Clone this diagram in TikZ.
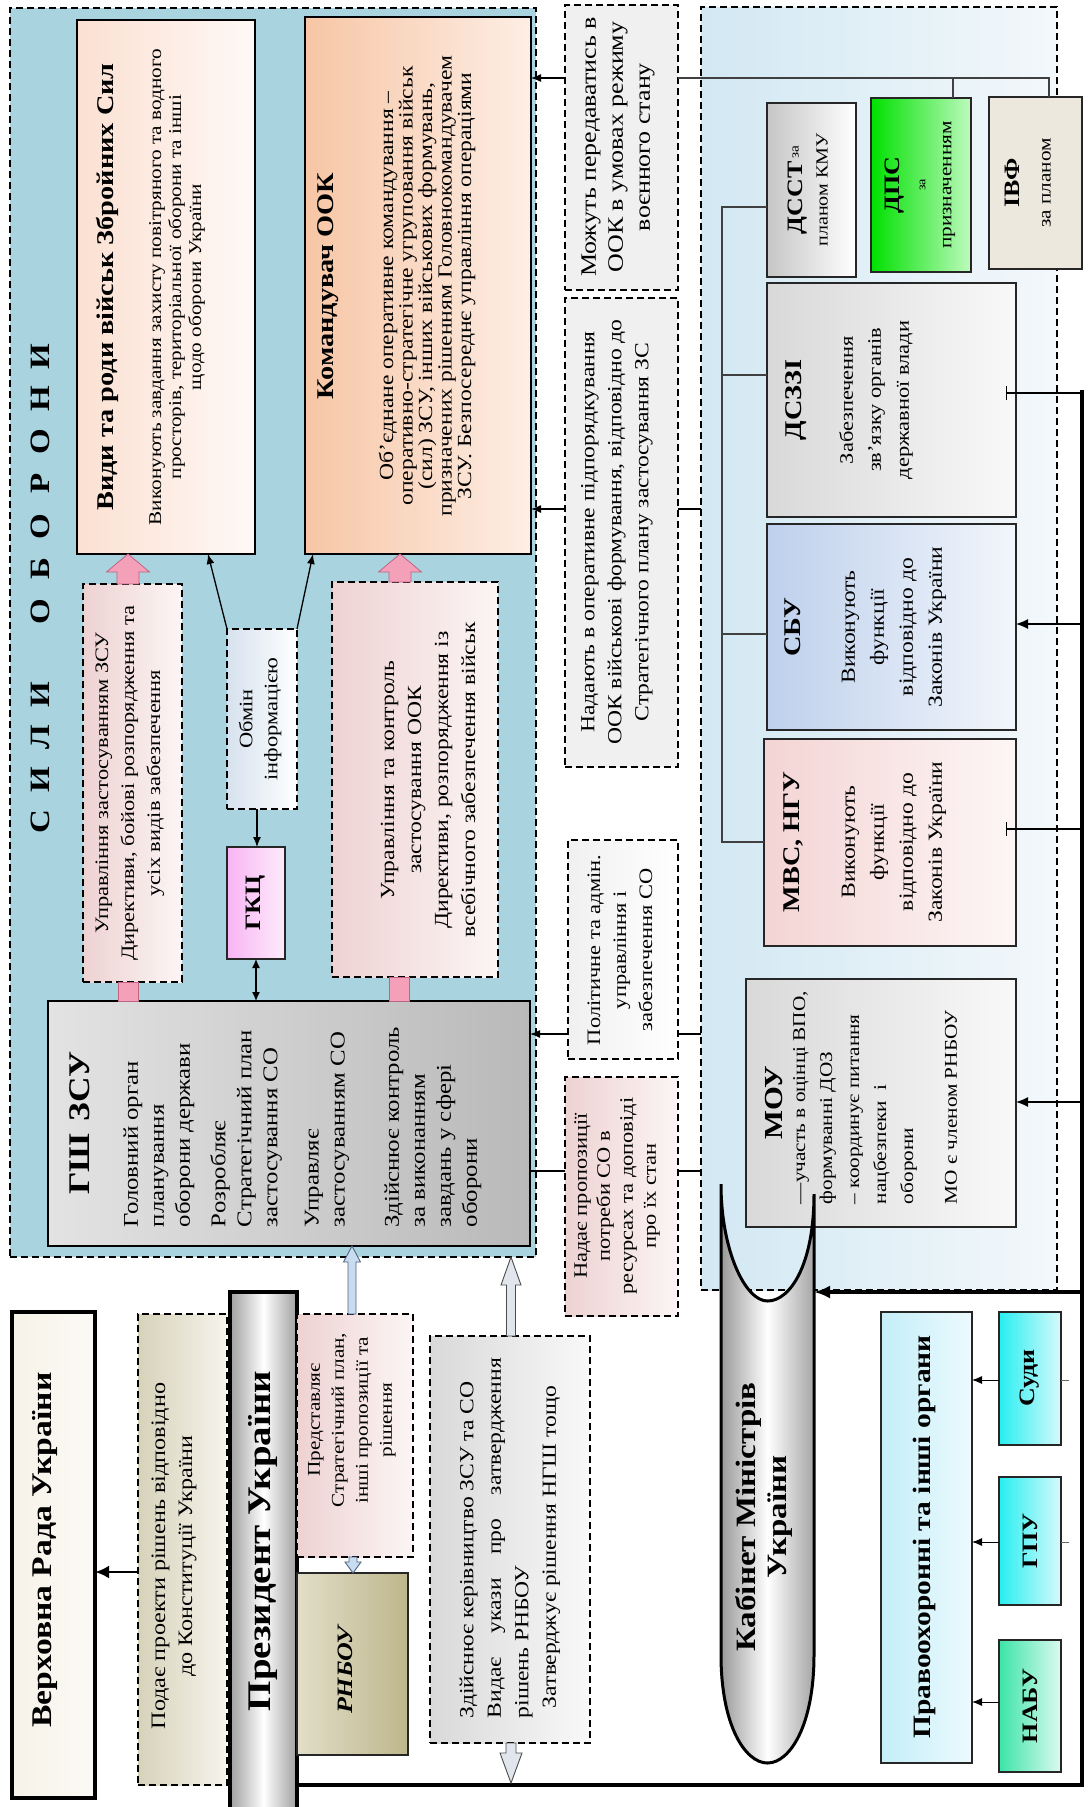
\documentclass[tikz,border=0pt]{standalone}
\usepackage{fontspec}
\setmainfont{Liberation Serif}[FakeStretch=1.18]
\usetikzlibrary{arrows.meta,calc}
\definecolor{silybg}{RGB}{168,211,223}
\definecolor{govA}{RGB}{210,232,243}
\definecolor{govB}{RGB}{243,248,251}
\definecolor{peachA}{RGB}{251,224,210}
\definecolor{peachB}{RGB}{255,249,246}
\definecolor{orangeA}{RGB}{247,198,165}
\definecolor{orangeB}{RGB}{253,238,229}
\definecolor{pinkA}{RGB}{238,210,210}
\definecolor{pinkB}{RGB}{252,245,245}
\definecolor{blueA}{RGB}{214,226,238}
\definecolor{magA}{RGB}{248,180,244}
\definecolor{magB}{RGB}{253,236,251}
\definecolor{grayL}{RGB}{240,240,240}
\definecolor{dpsA}{RGB}{0,225,0}
\definecolor{dpsB}{RGB}{190,250,190}
\definecolor{ivfC}{RGB}{236,232,222}
\definecolor{sbuA}{RGB}{190,208,236}
\definecolor{sbuB}{RGB}{242,246,252}
\definecolor{mvsA}{RGB}{244,212,212}
\definecolor{mvsB}{RGB}{253,246,246}
\definecolor{pravA}{RGB}{196,238,248}
\definecolor{pravB}{RGB}{236,250,254}
\definecolor{cyanA}{RGB}{40,238,240}
\definecolor{cyanB}{RGB}{215,250,252}
\definecolor{nabuA}{RGB}{60,228,168}
\definecolor{nabuB}{RGB}{220,250,240}
\definecolor{creamA}{RGB}{246,242,232}
\definecolor{creamB}{RGB}{252,250,246}
\definecolor{khakiA}{RGB}{214,210,186}
\definecolor{khakiB}{RGB}{246,244,236}
\definecolor{oliveA}{RGB}{226,222,200}
\definecolor{oliveB}{RGB}{190,182,140}
\definecolor{pinkAr}{RGB}{244,160,185}
\definecolor{pinkArD}{RGB}{190,100,130}
\definecolor{blueAr}{RGB}{200,220,240}
\definecolor{blueArD}{RGB}{80,100,130}
\definecolor{grayAr}{RGB}{225,230,236}
\newcommand\fs[2]{\fontsize{#1}{#2}\selectfont}
\newcommand\Lt[1]{\makebox[42.5pt]{#1}}
\newcommand\BOX[7]{\node[#2, minimum width={(#5-#3)*1pt}, minimum height={(#6-#4)*1pt}] (#1) at ({(#3+#5)/2},{(#4+#6)/2}) {#7};}
\newcommand\blockar[6]{\draw[#1] ($(#2)+(-#4,0)$) -- ($(#3)+(-#4,#6)$) -- ($(#3)+(-#5,#6)$) -- (#3) -- ($(#3)+(#5,#6)$) -- ($(#3)+(#4,#6)$) -- ($(#2)+(#4,0)$) -- cycle;}
\begin{document}
\begin{tikzpicture}[x=1pt,y=-1pt,
  box/.style={draw=black!85, line width=1.2pt, inner sep=0pt, outer sep=0pt},
  dbox/.style={box, draw=black, dash pattern=on 7pt off 4pt},
  tbox/.style={box, draw=black, line width=2.6pt},
  rt/.style={rotate=90, inner sep=0pt, outer sep=0pt, align=center, text=black},
  rtl/.style={rt, align=left},
  ln/.style={draw=black, line width=1.3pt},
  tln/.style={draw=black!75, line width=1.4pt},
  arr/.style={ln, -{Latex[length=10pt,width=8pt]}},
  pinkar/.style={draw=pinkArD, line width=0.8pt, fill=pinkAr},
  bluear/.style={draw=blueArD, line width=0.9pt, fill=blueAr},
  grayar/.style={draw=black!70, line width=0.9pt, fill=grayAr},
]
\fill[white] (0,0) rectangle (1087,1807);
\useasboundingbox (0,0) rectangle (1087,1807);

% regions
\BOX{sily}{dbox, fill=silybg}{10}{8}{536}{1257}{}
\BOX{gov}{dbox, left color=govA, right color=govB}{701}{7}{1057}{1290}{}
\node[rt, font=\fs{28}{30}\bfseries] (silyT) at (40,589) {\Lt{С}\Lt{И}\Lt{Л}\Lt{И}\hspace{40.5pt}\Lt{О}\Lt{Б}\Lt{О}\Lt{Р}\Lt{О}\Lt{Н}\Lt{И}};

% SILY OBORONY content
\BOX{vydy}{tbox, left color=peachA, right color=peachB}{77}{20}{255}{554}{}
\node[rt, font=\fs{24}{26}\bfseries] (vydyT) at (107,287) {Види та роди військ Збройних Сил};
\node[rt, font=\fs{18}{20}] (vydyB) at (177,287) {Виконують завдання захисту повітряного та водного\\просторів, територіальної оборони та інші\\щодо оборони України};

\BOX{kom}{tbox, left color=orangeA, right color=orangeB}{305}{17}{531}{554}{}
\node[rt, font=\fs{24}{26}\bfseries] (komT) at (328,286) {Командувач ООК};
\node[rt, font=\fs{20}{19.5}] (komB) at (427,286) {Об’єднане оперативне командування –\\оперативно-стратегічне угруповання військ\\(сил) ЗСУ, інших військових формувань,\\призначених рішенням Головнокомандувачем\\ЗСУ. Безпосереднє управління операціями};

\BOX{upr1}{dbox, left color=pinkA, right color=pinkB}{83}{584}{182}{982}{}
\node[rt, font=\fs{19}{26}] (upr1T) at (130,783) {Управління застосуванням ЗСУ\\Директиви, бойові розпорядження та\\усіх видів забезпечення};

\BOX{obmin}{dbox, left color=blueA, right color=white}{227}{629}{297}{809}{}
\node[rt, font=\fs{19}{25}] (obminT) at (260,719) {Обмін\\інформацією};

\BOX{gkc}{box, left color=magA, right color=magB}{227}{847}{285}{959}{}
\node[rt, font=\fs{22}{24}\bfseries] (gkcT) at (256,903) {ГКЦ};

\BOX{upr2}{dbox, left color=pinkA, right color=pinkB}{332}{582}{498}{977}{}
\node[rt, font=\fs{20}{27}] (upr2T) at (428,780) {Управління та контроль\\застосування ООК\\Директиви, розпорядження із\\всебічного забезпечення військ};

\BOX{gsh}{tbox, left color=gray!22, right color=gray!55}{48}{1001}{530}{1246}{}
\node[rt, font=\fs{30}{32}\bfseries] (gshT) at (80,1123) {ГШ\hspace{12pt}ЗСУ};
\node[rtl, font=\fs{21}{26}, anchor=west] (gsh1) at (159,1227) {Головний орган\\планування\\оборони держави};
\node[rtl, font=\fs{21}{26}, anchor=west] (gsh2) at (246,1227) {Розробляє\\Стратегічний план\\застосування СО};
\node[rtl, font=\fs{21}{26}, anchor=west] (gsh3) at (327,1227) {Управляє\\застосуванням СО};
\node[rtl, font=\fs{21}{26}, anchor=west] (gsh4) at (433,1227) {Здійснює контроль\\за виконанням\\завдань у сфері\\оборони};

% middle column
\BOX{mozh}{dbox, fill=grayL}{565}{5}{678}{290}{}
\node[rt, font=\fs{22}{27}] (mozhT) at (618,147) {Можуть передаватись в\\ООК в умовах режиму\\воєнного стану};
\BOX{nadayut}{dbox, fill=grayL}{565}{298}{678}{767}{}
\node[rt, font=\fs{20}{27}] (nadayutT) at (617,532) {Надають в оперативне підпорядкування\\ООК військові формування, відповідно до\\Стратегічного плану застосування ЗС};
\BOX{polit}{dbox, left color=grayL, right color=white}{568}{840}{678}{1059}{}
\node[rt, font=\fs{19}{26}] (politT) at (620,950) {Політичне та адмін.\\управління і\\забезпечення СО};
\BOX{nadae}{dbox, left color=pinkA, right color=pinkB}{565}{1077}{678}{1316}{}
\node[rt, font=\fs{19}{23}] (nadaeT) at (617,1196) {Надає пропозиції\\потреби СО в\\ресурсах та доповіді\\про їх стан};

% government column
\BOX{dsst}{box, left color=gray!45, right color=white}{767}{103}{856}{277}{}
\node[rt, font=\fs{17}{25}] (dsstT) at (808,190) {{\fs{22}{24}\bfseries ДССТ}\,\raisebox{4pt}{\fs{13}{14}за}\\планом КМУ};
\BOX{dps}{box, left color=dpsA, right color=dpsB}{871}{98}{971}{272}{}
\node[rt, font=\fs{18}{26}] (dpsT) at (920,185) {{\fs{22}{22}\bfseries ДПС}\\{\fs{12}{14}за}\\призначенням};
\BOX{ivf}{box, fill=ivfC}{989}{97}{1082}{269}{}
\node[rt, font=\fs{18}{31}] (ivfT) at (1028,183) {{\fs{22}{22}\bfseries ІВФ}\\за планом};
\BOX{dszzi}{box, left color=gray!30, right color=gray!5}{767}{283}{1016}{517}{}
\node[rt, font=\fs{24}{26}\bfseries] (dszziT) at (796,400) {ДСЗЗІ};
\node[rt, font=\fs{19}{28}] (dszziB) at (876,400) {Забезпечення\\зв’язку органів\\державної влади};
\BOX{sbu}{box, left color=sbuA, right color=sbuB}{767}{524}{1016}{730}{}
\node[rt, font=\fs{24}{26}\bfseries] (sbuT) at (793,627) {СБУ};
\node[rt, font=\fs{20}{29}] (sbuB) at (894,627) {Виконують\\функції\\відповідно до\\Законів України};
\BOX{mvs}{box, left color=mvsA, right color=mvsB}{764}{739}{1016}{946}{}
\node[rt, font=\fs{24}{26}\bfseries] (mvsT) at (793,842) {МВС, НГУ};
\node[rt, font=\fs{20}{29}] (mvsB) at (894,842) {Виконують\\функції\\відповідно до\\Законів України};
\BOX{mou}{box, left color=gray!30, right color=gray!5}{746}{979}{1016}{1227}{}
\node[rt, font=\fs{26}{28}\bfseries] (mouT) at (774,1103) {МОУ};
\node[rtl, font=\fs{18}{27}, anchor=west] (mouB) at (855,1204) {—участь в оцінці ВПО,\\формуванні ДОЗ\\– координує питання\\нацбезпеки\hspace{10pt}і\\оборони};
\node[rtl, font=\fs{18}{27}, anchor=west] (mouC) at (951,1204) {МО є членом РНБОУ};

% law enforcement
\BOX{pravo}{box, line width=1.8pt, left color=pravA, right color=pravB}{881}{1312}{972}{1763}{}
\node[rt, font=\fs{25}{27}\bfseries] (pravoT) at (924,1537) {Правоохоронні та інші органи};
\BOX{sudy}{box, left color=cyanA, right color=cyanB}{999}{1312}{1061}{1445}{}
\node[rt, font=\fs{22}{24}\bfseries] (sudyT) at (1030,1378) {Суди};
\BOX{gpu}{box, left color=cyanA, right color=cyanB}{999}{1477}{1061}{1605}{}
\node[rt, font=\fs{22}{24}\bfseries] (gpuT) at (1030,1541) {ГПУ};
\BOX{nabu}{box, left color=nabuA, right color=nabuB}{999}{1640}{1061}{1772}{}
\node[rt, font=\fs{22}{24}\bfseries] (nabuT) at (1030,1706) {НАБУ};

% left column
\BOX{verkh}{box, draw=black, line width=3.5pt, left color=creamA, right color=creamB}{12}{1312}{95}{1798}{}
\node[rt, font=\fs{28.5}{30}\bfseries] (verkhT) at (45,1550) {Верховна Рада України};
\BOX{podae}{dbox, left color=khakiA, right color=khakiB}{138}{1314}{227}{1785}{}
\node[rt, font=\fs{20.5}{27}] (podaeT) at (174,1556) {Подає проекти рішень відповідно\\до Конституції України};
\BOX{prez}{box, draw=black, line width=3.5pt, left color=gray!75, right color=gray!75, middle color=white}{230}{1292}{297}{1815}{}
\node[rt, font=\fs{33}{35}\bfseries] (prezT) at (263,1541) {Президент України};
\BOX{predst}{dbox, left color=pinkA, right color=pinkB}{297}{1314}{413}{1557}{}
\node[rt, font=\fs{18}{24}] (predstT) at (352,1420) {Представляє\\Стратегічний план,\\інші пропозиції та\\рішення};
\BOX{rnbou}{box, left color=oliveA, right color=oliveB}{297}{1573}{408}{1755}{}
\node[rt, font=\fs{22}{24}\bfseries\itshape] (rnbouT) at (345,1670) {РНБОУ};
\BOX{zdiysn}{dbox, left color=gray!30, right color=gray!5}{430}{1336}{590}{1743}{}
\node[rtl, font=\fs{20}{27.5}, anchor=west] (zdiysnT) at (510,1718) {Здійснює керівництво ЗСУ та СО\\\makebox[360pt][s]{Видає укази про затвердження}\\рішень РНБОУ\\\hspace*{10pt}Затверджує рішення НГШ тощо};

% Cabinet of Ministers
\draw[line width=3pt, left color=gray!80, right color=gray!70, middle color=white]
  (721,1184) -- (721,1655) .. controls (721,1725) and (745,1763) .. (767.5,1763)
  .. controls (790,1763) and (814,1725) .. (814,1655) -- (814,1194)
  .. controls (814,1265) and (790,1301) .. (767.5,1301)
  .. controls (745,1301) and (721,1250) .. (721,1184) -- cycle;
\node[rt, font=\fs{28}{31}\bfseries] (kab) at (764,1517) {Кабінет Міністрів\\України};
\coordinate (kabR) at (814,1292);

% frame
\coordinate (frT) at (1082,390);
\coordinate (frB) at (1082,1785);
\draw[line width=3.5pt] (prez.east |- frB) -- (frB) -- (frT);
\draw[line width=3.5pt, -{Latex[length=16pt,width=13pt]}] (frT |- kabR) -- (kabR);
\draw[ln, -{Bar[width=14pt]}] (frT |- 0,393) -- ($(dszzi.east |- 0,393)+(-10,0)$);
\draw[ln, -{Latex[length=12pt,width=10pt]}] (frT |- 0,624) -- (sbu.east |- 0,624);
\draw[ln, -{Bar[width=14pt]}] (frT |- 0,829) -- ($(mvs.east |- 0,829)+(-10,0)$);
\draw[ln, -{Latex[length=12pt,width=10pt]}] (frT |- 0,1102) -- (mou.east |- 0,1102);

% trunk inside government region
\coordinate (trA) at (722,207);
\coordinate (trB) at (722,842);
\draw[tln] (dsst.west |- trA) -- (trA) -- (trB) -- (mvs.west |- trB);
\draw[tln] (trA |- 0,375) -- (dszzi.west |- 0,375);
\draw[tln] (trA |- 0,634) -- (sbu.west |- 0,634);

% middle column connectors
\coordinate (jA) at (1049,78);
\coordinate (jB) at (953,78);
\draw[arr] (mozh.west |- jA) -- (kom.east |- jA);
\draw[tln] (mozh.east |- jA) -- (jA) -- (ivf.north -| jA);
\draw[tln] (jB) -- (dps.north -| jB);
\draw[arr] (nadayut.west |- 0,509) -- (kom.east |- 0,509);
\draw[ln] (nadayut.east |- 0,509) -- (gov.west |- 0,509);
\draw[arr] (polit.west |- 0,1034) -- (gsh.east |- 0,1034);
\draw[ln] (polit.east |- 0,1034) -- (gov.west |- 0,1034);
\draw[ln] (nadae.west |- 0,1171) -- (gsh.east |- 0,1171);
\draw[ln] (nadae.east |- 0,1171) -- (gov.west |- 0,1171);

% information exchange
\draw[arr] (obmin.north west) -- (vydy.south -| 208,0);
\draw[arr] (obmin.north east) -- (kom.south -| 313,0);
\draw[arr] (obmin.south -| 257,0) -- (gkc.north -| 257,0);
\draw[ln, {Latex[length=9pt,width=8pt]}-{Latex[length=9pt,width=8pt]}] (gkc.south -| 256,0) -- (gsh.north -| 256,0);

% pink block arrows
\coordinate (p1b) at (upr1.north -| 128,0);
\coordinate (p1t) at (vydy.south -| 128,0);
\blockar{pinkar}{p1b}{p1t}{11}{21.5}{18}
\coordinate (p2b) at (upr2.north -| 400,0);
\coordinate (p2t) at (kom.south -| 400,0);
\blockar{pinkar}{p2b}{p2t}{11}{21.5}{18}
\draw[pinkar] (gsh.north -| 118,0) rectangle (upr1.south -| 138,0);
\draw[pinkar] (gsh.north -| 389,0) rectangle (upr2.south -| 409,0);

% hollow arrows
\coordinate (b1b) at (predst.north -| 352,0);
\coordinate (b1t) at (gsh.south -| 352,0);
\blockar{bluear}{b1b}{b1t}{4}{8.5}{16}
\coordinate (b2b) at (predst.south -| 353,0);
\coordinate (b2t) at (rnbou.north -| 353,0);
\blockar{bluear}{b2b}{b2t}{4}{8}{-11}
\coordinate (b3b) at (zdiysn.north -| 511,0);
\coordinate (b3t) at (sily.south -| 511,0);
\blockar{grayar}{b3b}{b3t}{4.5}{10}{28}
\coordinate (b4b) at (zdiysn.south -| 511,0);
\coordinate (b4t) at ($(frB -| 511,0)+(0,-2)$);
\blockar{grayar}{b4b}{b4t}{5}{11}{-30}

% left column connectors
\draw[line width=2.8pt, -{Latex[length=14pt,width=13pt]}] (podae.west |- 0,1572) -- (verkh.east |- 0,1572);

% law enforcement connectors
\draw[ln, line width=1pt, -{Latex[length=10pt,width=8pt]}] (sudy.west |- 0,1380) -- (pravo.east |- 0,1380);
\draw[ln, line width=1pt, -{Latex[length=10pt,width=8pt]}] (gpu.west |- 0,1542) -- (pravo.east |- 0,1542);
\draw[ln, line width=1pt, -{Latex[length=10pt,width=8pt]}] (nabu.west |- 0,1702) -- (pravo.east |- 0,1702);
\draw[draw=black!60, line width=1pt] (sudy.east |- 0,1380) -- ++(8,0);
\draw[draw=black!60, line width=1pt] (gpu.east |- 0,1542) -- ++(8,0);
\end{tikzpicture}
\end{document}
